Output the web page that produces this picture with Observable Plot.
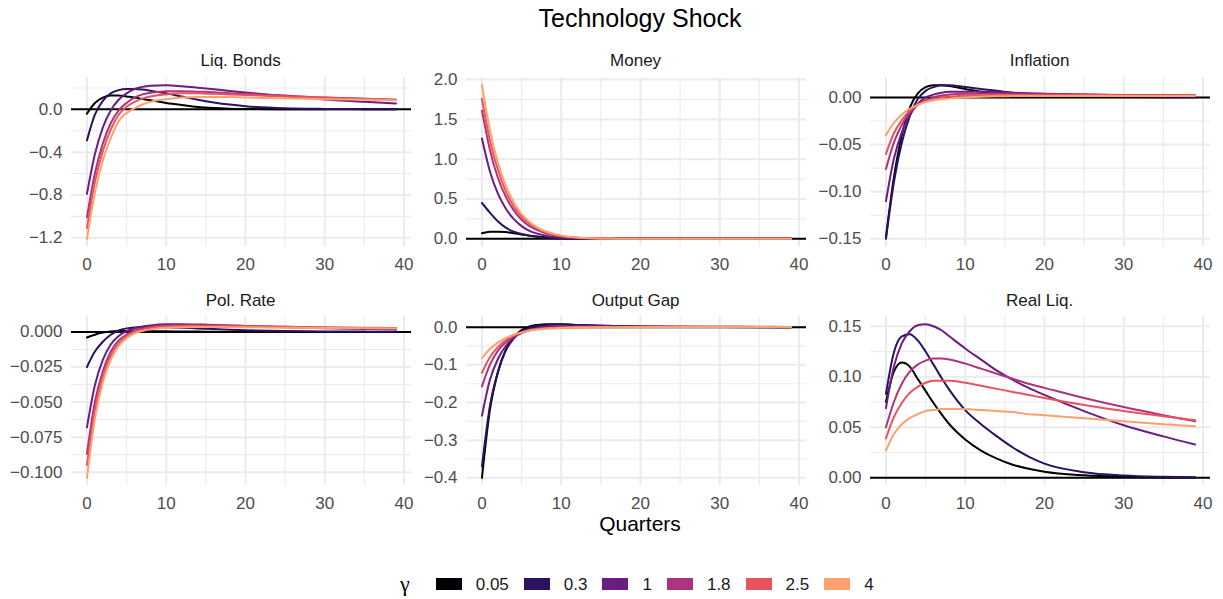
<!DOCTYPE html>
<html>
<head>
<meta charset="utf-8">
<script src="https://cdn.jsdelivr.net/npm/d3@7"></script>
<script src="https://cdn.jsdelivr.net/npm/@observablehq/plot@0.6"></script>
<style>
  html, body { margin: 0; padding: 0; background: #fff; }
  #root { position: relative; width: 1223px; height: 599px; overflow: hidden; font-family: "Liberation Sans", Arial, sans-serif; }
  .abs { position: absolute; }
  .lbl { position: absolute; line-height: 1; white-space: nowrap; }
  #legend { position: absolute; display: flex; align-items: center; height: 20px; }
  #legend .sw { width: 26px; height: 12px; margin-right: 14px; }
  #legend .tx { font-size: 17px; color: #1a1a1a; margin-right: 15px; line-height: 1; }
</style>
</head>
<body>
<div id="root"></div>
<script>
// ---------- data ----------
const quarters = [0,1,2,3,4,5,6,7,8,10,12,14,16,18,20,25,30,35,39];
const gammas = ["0.05","0.3","1","1.8","2.5","4"];
const panelTitles = ["Liq. Bonds","Money","Inflation","Pol. Rate","Output Gap","Real Liq."];
const xTickValues = [0,10,20,30,40];

const liqBonds = [
  [-0.04, 0.06, 0.11, 0.13, 0.13, 0.12, 0.11, 0.097, 0.085, 0.06, 0.04, 0.022, 0.012, 0.006, 0.003, 0.001, 0, 0, 0],
  [-0.29, -0.05, 0.08, 0.15, 0.18, 0.19, 0.19, 0.185, 0.175, 0.15, 0.12, 0.09, 0.065, 0.045, 0.03, 0.01, 0.004, 0.002, 0.001],
  [-0.79, -0.42, -0.17, -0.01, 0.09, 0.15, 0.19, 0.21, 0.22, 0.226, 0.217, 0.203, 0.188, 0.172, 0.157, 0.122, 0.092, 0.07, 0.055],
  [-1.01, -0.6, -0.32, -0.13, -0.01, 0.06, 0.11, 0.14, 0.155, 0.17, 0.17, 0.165, 0.16, 0.15, 0.145, 0.13, 0.11, 0.1, 0.09],
  [-1.11, -0.68, -0.39, -0.19, -0.05, 0.025, 0.07, 0.1, 0.12, 0.14, 0.15, 0.15, 0.145, 0.14, 0.135, 0.12, 0.11, 0.1, 0.09],
  [-1.21, -0.78, -0.48, -0.27, -0.11, -0.035, 0.01, 0.045, 0.07, 0.095, 0.11, 0.115, 0.115, 0.115, 0.11, 0.105, 0.095, 0.09, 0.085]
];
const money = [
  [0.07, 0.09, 0.09, 0.085, 0.07, 0.055, 0.04, 0.03, 0.02, 0.01, 0.005, 0.002, 0.001, 0, 0, 0, 0, 0, 0],
  [0.45, 0.33, 0.22, 0.14, 0.09, 0.06, 0.04, 0.025, 0.015, 0.007, 0.003, 0.001, 0, 0, 0, 0, 0, 0, 0],
  [1.26, 0.85, 0.57, 0.38, 0.25, 0.16, 0.1, 0.065, 0.04, 0.015, 0.005, 0.002, 0.001, 0, 0, 0, 0, 0, 0],
  [1.61, 1.12, 0.77, 0.53, 0.36, 0.24, 0.16, 0.11, 0.07, 0.03, 0.012, 0.005, 0.002, 0.001, 0, 0, 0, 0, 0],
  [1.76, 1.24, 0.87, 0.6, 0.41, 0.28, 0.19, 0.13, 0.085, 0.037, 0.015, 0.006, 0.002, 0.001, 0, 0, 0, 0, 0],
  [1.93, 1.37, 0.96, 0.67, 0.46, 0.31, 0.21, 0.14, 0.095, 0.04, 0.017, 0.007, 0.003, 0.001, 0, 0, 0, 0, 0]
];
const inflation = [
  [-0.148, -0.085, -0.04, -0.011, 0.004, 0.011, 0.013, 0.013, 0.012, 0.009, 0.006, 0.004, 0.003, 0.002, 0.0015, 0.0008, 0.0005, 0.0003, 0.0002],
  [-0.15, -0.09, -0.048, -0.02, -0.002, 0.007, 0.011, 0.013, 0.013, 0.011, 0.009, 0.007, 0.005, 0.004, 0.003, 0.002, 0.0012, 0.0008, 0.0005],
  [-0.11, -0.065, -0.037, -0.019, -0.007, 0.0, 0.003, 0.005, 0.006, 0.006, 0.006, 0.0055, 0.005, 0.0045, 0.004, 0.003, 0.0025, 0.002, 0.0015],
  [-0.076, -0.048, -0.029, -0.016, -0.008, -0.003, 0.0, 0.002, 0.003, 0.004, 0.004, 0.004, 0.0038, 0.0035, 0.0033, 0.003, 0.0027, 0.0024, 0.0022],
  [-0.06, -0.038, -0.024, -0.014, -0.008, -0.004, -0.002, 0.0, 0.001, 0.002, 0.0025, 0.0027, 0.0027, 0.0027, 0.0027, 0.0026, 0.0024, 0.0022, 0.002],
  [-0.04, -0.027, -0.018, -0.012, -0.008, -0.005, -0.003, -0.002, -0.001, 0.0, 0.0008, 0.0012, 0.0014, 0.0015, 0.0016, 0.0016, 0.0016, 0.0015, 0.0015]
];
const polRate = [
  [-0.004, -0.002, -0.0005, 0.0003, 0.0006, 0.0007, 0.0007, 0.0006, 0.0005, 0.0004, 0.0003, 0.0002, 0.0001, 0, 0, 0, 0, 0, 0],
  [-0.025, -0.014, -0.007, -0.002, 0.001, 0.0025, 0.0032, 0.0035, 0.0035, 0.0033, 0.003, 0.0025, 0.002, 0.0015, 0.0012, 0.0006, 0.0003, 0.0002, 0.0001],
  [-0.068, -0.038, -0.02, -0.009, -0.003, 0.0005, 0.0025, 0.0038, 0.0046, 0.0054, 0.0055, 0.0053, 0.005, 0.0046, 0.0042, 0.0033, 0.0026, 0.002, 0.0016],
  [-0.087, -0.05, -0.028, -0.014, -0.006, -0.002, 0.001, 0.0025, 0.0035, 0.0045, 0.0048, 0.0048, 0.0046, 0.0044, 0.0042, 0.0037, 0.0032, 0.0028, 0.0025],
  [-0.095, -0.056, -0.032, -0.017, -0.008, -0.003, 0.0, 0.0015, 0.0028, 0.0038, 0.0042, 0.0043, 0.0042, 0.0041, 0.004, 0.0036, 0.0032, 0.0029, 0.0027],
  [-0.104, -0.062, -0.036, -0.02, -0.01, -0.0045, -0.001, 0.0007, 0.0018, 0.003, 0.0034, 0.0035, 0.0035, 0.0034, 0.0033, 0.003, 0.0028, 0.0026, 0.0024]
];
const outputGap = [
  [-0.40, -0.22, -0.12, -0.06, -0.026, -0.008, 0.002, 0.006, 0.008, 0.008, 0.006, 0.004, 0.003, 0.002, 0.0013, 0.0005, 0.0002, 0.0001, 0],
  [-0.37, -0.21, -0.12, -0.062, -0.03, -0.012, -0.002, 0.003, 0.006, 0.007, 0.006, 0.005, 0.004, 0.003, 0.002, 0.001, 0.0005, 0.0002, 0.0001],
  [-0.235, -0.14, -0.085, -0.05, -0.028, -0.015, -0.007, -0.002, 0.0, 0.002, 0.0025, 0.0025, 0.0022, 0.002, 0.0018, 0.0013, 0.001, 0.0007, 0.0005],
  [-0.157, -0.1, -0.063, -0.04, -0.025, -0.015, -0.008, -0.004, -0.002, 0.0, 0.001, 0.0012, 0.0013, 0.0013, 0.0013, 0.0012, 0.001, 0.0009, 0.0008],
  [-0.121, -0.08, -0.053, -0.035, -0.022, -0.014, -0.008, -0.005, -0.003, -0.001, 0.0, 0.0005, 0.0007, 0.0008, 0.0008, 0.0008, 0.0008, 0.0007, 0.0007],
  [-0.082, -0.058, -0.041, -0.029, -0.02, -0.014, -0.009, -0.006, -0.004, -0.002, -0.001, -0.0004, 0.0, 0.0002, 0.0003, 0.0004, 0.0004, 0.0004, 0.0004]
];
const realLiq = [
  [0.075, 0.105, 0.114, 0.11, 0.098, 0.086, 0.074, 0.063, 0.053, 0.038, 0.027, 0.019, 0.013, 0.009, 0.006, 0.0025, 0.001, 0.0004, 0.0002],
  [0.083, 0.124, 0.14, 0.142, 0.136, 0.125, 0.112, 0.099, 0.087, 0.067, 0.053, 0.041, 0.03, 0.021, 0.014, 0.0056, 0.0023, 0.001, 0.0005],
  [0.069, 0.11, 0.133, 0.145, 0.151, 0.152, 0.15, 0.146, 0.14, 0.128, 0.117, 0.106, 0.097, 0.089, 0.082, 0.066, 0.052, 0.041, 0.033],
  [0.05, 0.075, 0.093, 0.105, 0.112, 0.116, 0.118, 0.118, 0.117, 0.113, 0.108, 0.103, 0.098, 0.093, 0.089, 0.079, 0.07, 0.062, 0.056],
  [0.039, 0.06, 0.074, 0.084, 0.09, 0.094, 0.096, 0.096, 0.096, 0.094, 0.091, 0.088, 0.085, 0.082, 0.079, 0.072, 0.066, 0.061, 0.057],
  [0.027, 0.043, 0.053, 0.059, 0.063, 0.066, 0.067, 0.068, 0.068, 0.068, 0.067, 0.066, 0.065, 0.063, 0.062, 0.059, 0.056, 0.053, 0.051]
];

const yTicksLiqBonds = [-1.2, -0.8, -0.4, 0.0];
const yTicksMoney = [0.0, 0.5, 1.0, 1.5, 2.0];
const yTicksInflation = [-0.15, -0.10, -0.05, 0.00];
const yTicksPolRate = [-0.100, -0.075, -0.050, -0.025, 0.000];
const yTicksOutputGap = [-0.4, -0.3, -0.2, -0.1, 0.0];
const yTicksRealLiq = [0.00, 0.05, 0.10, 0.15];

// ---------- styling / layout ----------
const colors = ["#000004", "#2C115F", "#6B1D81", "#AD347C", "#E8535F", "#FEA06D"];
const FONT = '"Liberation Sans", Arial, sans-serif';
const colLefts = [70.6, 465.6, 869.6];
const rowTops = [76.5, 315.5];
const PW = 340, PH = 169, ML = 70, MB = 34;

const panels = [
  {series: liqBonds, ticks: yTicksLiqBonds, fmt: ".1f"},
  {series: money, ticks: yTicksMoney, fmt: ".1f"},
  {series: inflation, ticks: yTicksInflation, fmt: ".2f"},
  {series: polRate, ticks: yTicksPolRate, fmt: ".3f"},
  {series: outputGap, ticks: yTicksOutputGap, fmt: ".1f"},
  {series: realLiq, ticks: yTicksRealLiq, fmt: ".2f"}
];

const root = document.getElementById("root");

function addLabel(text, x, baseline, size, color, anchor, family) {
  const d = document.createElement("div");
  d.className = "lbl";
  d.textContent = text;
  d.style.fontSize = size + "px";
  d.style.color = color;
  if (family) d.style.fontFamily = family;
  d.style.top = (baseline - 0.8465 * size) + "px";
  d.style.left = x + "px";
  if (anchor === "middle") d.style.transform = "translateX(-50%)";
  root.appendChild(d);
}

function minorOf(ticks, lo, hi) {
  const step = ticks[1] - ticks[0];
  const out = [];
  for (let i = -1; i < ticks.length; i++) {
    const m = ticks[0] + (i + 0.5) * step;
    if (m >= lo && m <= hi) out.push(m);
  }
  return out;
}

panels.forEach((p, idx) => {
  const col = idx % 3, row = Math.floor(idx / 3);
  const rows = [];
  p.series.forEach((vals, gi) => vals.forEach((v, i) => rows.push({q: quarters[i], v, g: gammas[gi]})));
  const vals = rows.map(r => r.v).concat([0]);
  const lo0 = d3.min(vals), hi0 = d3.max(vals);
  const pad = (hi0 - lo0) * 0.05;
  const yDom = [lo0 - pad, hi0 + pad];
  const xDom = [-1.95, 40.95];
  const yMinor = minorOf(p.ticks, yDom[0], yDom[1]);
  const xMinor = minorOf(xTickValues, xDom[0], xDom[1]);
  const f = d3.format(p.fmt);

  const svg = Plot.plot({
    width: ML + PW, height: PH + MB,
    marginLeft: ML, marginRight: 0, marginTop: 0, marginBottom: MB,
    x: {domain: xDom}, y: {domain: yDom},
    color: {domain: gammas, range: colors},
    style: {fontFamily: FONT, color: "#4d4d4d", background: "transparent", overflow: "visible"},
    marks: [
      Plot.ruleY(yMinor, {stroke: "#ebebeb", strokeWidth: 1.1}),
      Plot.ruleX(xMinor, {stroke: "#ebebeb", strokeWidth: 1.1}),
      Plot.ruleY(p.ticks, {stroke: "#ebebeb", strokeWidth: 2}),
      Plot.ruleX(xTickValues, {stroke: "#ebebeb", strokeWidth: 2}),
      Plot.axisY(p.ticks, {tickSize: 0, tickPadding: 9, fontSize: 17, tickFormat: f, label: null}),
      Plot.axisX(xTickValues, {tickSize: 0, tickPadding: 11, fontSize: 17, label: null}),
      Plot.ruleY([0], {stroke: "black", strokeWidth: 2}),
      Plot.line(rows, {x: "q", y: "v", z: "g", stroke: "g", strokeWidth: 2, curve: "monotone-x"})
    ]
  });
  svg.classList.add("abs");
  svg.style.left = (colLefts[col] - ML) + "px";
  svg.style.top = rowTops[row] + "px";
  root.appendChild(svg);

  addLabel(panelTitles[idx], colLefts[col] + PW / 2, row === 0 ? 66 : 306, 17, "#1a1a1a", "middle");
});

addLabel("Technology Shock", 640, 27, 25, "#000", "middle");
addLabel("Quarters", 640, 531, 21, "#000", "middle");

// legend
const leg = document.createElement("div");
leg.id = "legend";
leg.style.left = "400px";
leg.style.top = "574px";
const gt = document.createElement("div");
gt.textContent = "γ";
gt.style.fontFamily = '"Liberation Serif", "DejaVu Serif", serif';
gt.style.fontSize = "22px";
gt.style.marginRight = "26px";
gt.style.lineHeight = "1";
leg.appendChild(gt);
gammas.forEach((g, i) => {
  const sw = document.createElement("div");
  sw.className = "sw";
  sw.style.background = colors[i];
  leg.appendChild(sw);
  const tx = document.createElement("div");
  tx.className = "tx";
  tx.textContent = g;
  leg.appendChild(tx);
});
root.appendChild(leg);
</script>
</body>
</html>
